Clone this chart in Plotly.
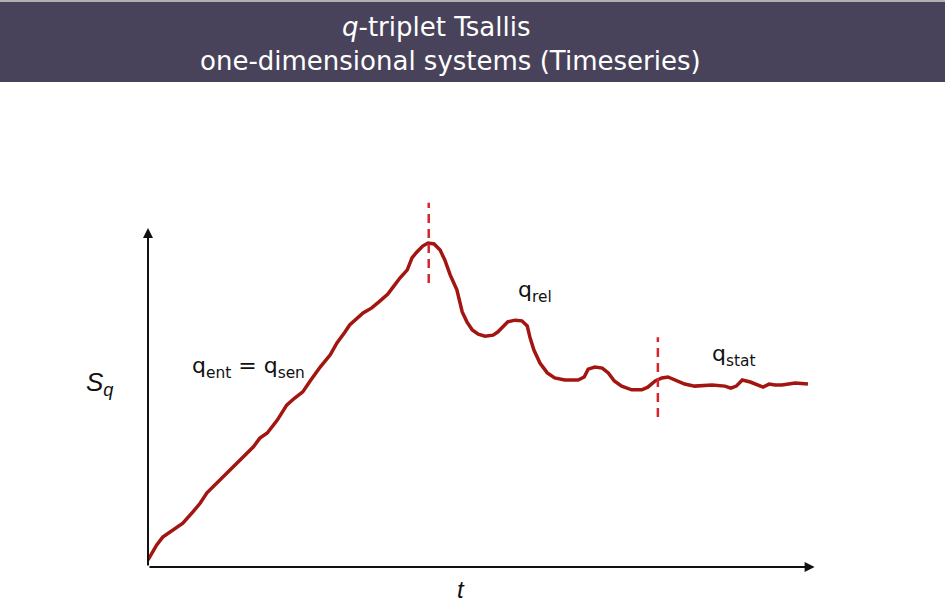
import plotly.graph_objects as go

# time axis (arbitrary units) and entropy S_q
t = [0, 0.6, 1.3, 2.2, 3.6, 5.2, 6.7, 7.8, 8.8, 10.0, 11.8, 13.7, 15.7, 16.7, 17.8,
     19.3, 20.7, 21.9, 23.1, 24.2, 25.7, 27.2, 28.2, 29.4, 30.1, 32.1, 33.4, 34.6,
     35.8, 36.6, 37.6, 38.7, 39.4, 40.1, 41.0, 41.8, 42.7, 43.6, 44.3, 45.1, 46.1,
     46.9, 47.6, 48.4, 49.3, 50.3, 51.5, 52.2, 53.0, 53.7, 54.8, 55.8, 56.6, 57.0,
     57.6, 58.5, 59.6, 60.7, 62.2, 64.2, 65.1, 65.7, 66.7, 67.8, 68.7, 69.6, 70.7,
     72.2, 73.7, 74.6, 75.7, 76.7, 77.6, 78.8, 80.1, 81.6, 84.2, 86.1, 87.0, 87.8,
     88.7, 89.9, 90.9, 91.8, 92.7, 93.6, 94.6, 95.5, 96.6, 98.5]
sq = [2.1, 4.1, 6.5, 8.8, 10.6, 12.9, 16.2, 18.8, 21.8, 24.1, 27.9, 31.5, 35.3, 37.9, 39.4,
      43.2, 47.6, 49.7, 51.5, 54.7, 58.8, 62.4, 65.9, 69.1, 71.2, 74.7, 76.2, 78.2,
      80.3, 82.4, 85.0, 87.4, 90.9, 92.6, 94.4, 95.3, 95.0, 93.2, 90.3, 85.9, 81.5,
      75.0, 72.1, 69.7, 68.5, 67.9, 68.2, 69.1, 70.9, 72.1, 72.6, 72.4, 70.9, 67.6,
      63.8, 60.0, 57.1, 55.6, 55.0, 55.0, 55.9, 58.2, 58.8, 58.5, 57.1, 54.7, 53.2,
      52.1, 52.1, 52.9, 54.7, 55.6, 55.9, 55.0, 53.8, 53.2, 53.5, 53.2, 52.6, 53.2,
      55.0, 54.4, 53.5, 52.9, 53.8, 53.5, 53.5, 53.8, 54.1, 53.8]

# regime boundaries: (t, S low, S high)
markers = [(41.9, 83.5, 107.1), (76.1, 44.1, 67.6)]

fig = go.Figure()
fig.add_trace(go.Scatter(x=t, y=sq, mode="lines",
                         line=dict(color="#A31510", width=3.5), hoverinfo="skip"))

for tx, y0, y1 in markers:
    fig.add_trace(go.Scatter(x=[tx, tx], y=[y0, y1], mode="lines",
                             line=dict(color="#D7262B", width=2.5, dash="9px,6px"),
                             hoverinfo="skip", cliponaxis=False))

shapes = [
    dict(type="rect", xref="paper", yref="paper", x0=0, x1=1, y0=0.864, y1=0.9967,
         fillcolor="#48435A", line_width=0, layer="below"),
    dict(type="rect", xref="paper", yref="paper", x0=0, x1=1, y0=0.9967, y1=1,
         fillcolor="#B0B0B0", line_width=0, layer="below"),
]

lbl = dict(family="DejaVu Sans", size=22, color="#111")
ttl = dict(family="DejaVu Sans", size=26, color="white")
ital = dict(family="Liberation Sans", size=26, color="#111")
mid = dict(xanchor="center", yanchor="middle", showarrow=False)
annotations = [
    # axes with arrow heads
    dict(x=99.5, y=0, ax=0, ay=0, xref="x", yref="y", axref="x", ayref="y",
         showarrow=True, arrowhead=2, arrowsize=1, arrowwidth=2, arrowcolor="#111", text=""),
    dict(x=0, y=99.7, ax=0, ay=0, xref="x", yref="y", axref="x", ayref="y",
         showarrow=True, arrowhead=2, arrowsize=1, arrowwidth=2, arrowcolor="#111", text=""),
    dict(x=6.3, y=58.8, xref="x", yref="y", xanchor="left", yanchor="middle",
         showarrow=False, text="q<sub>ent</sub> = q<sub>sen</sub>", font=lbl),
    dict(x=54.9, y=80.9, xref="x", yref="y", xanchor="left", yanchor="middle",
         showarrow=False, text="q<sub>rel</sub>", font=lbl),
    dict(x=83.9, y=62.1, xref="x", yref="y", xanchor="left", yanchor="middle",
         showarrow=False, text="q<sub>stat</sub>", font=lbl),
    # axis names sit outside the data range, so place them on the paper
    dict(x=0.1058, y=0.3632, xref="paper", yref="paper", text="<i>S<sub>q</sub></i>",
         font=ital, **mid),
    dict(x=0.4878, y=0.0216, xref="paper", yref="paper", text="<i>t</i>",
         font=dict(family="Liberation Sans", size=24, color="#111"), **mid),
    # title block
    dict(x=0.4614, y=0.955, xref="paper", yref="paper", text="<i>q</i>-triplet Tsallis",
         font=ttl, **mid),
    dict(x=0.4762, y=0.899, xref="paper", yref="paper",
         text="one-dimensional systems (Timeseries)", font=ttl, **mid),
]

fig.update_layout(
    width=945, height=603,
    margin=dict(l=0, r=0, t=0, b=0),
    paper_bgcolor="white", plot_bgcolor="white",
    showlegend=False,
    xaxis=dict(domain=[148 / 945, 818 / 945], range=[0, 100], visible=False),
    yaxis=dict(domain=[36 / 603, 410 / 603], range=[0, 110], visible=False),
    shapes=shapes,
    annotations=annotations,
)

fig.write_html("out.html", config={"displayModeBar": False},
               post_script="document.body.style.margin='0';")
